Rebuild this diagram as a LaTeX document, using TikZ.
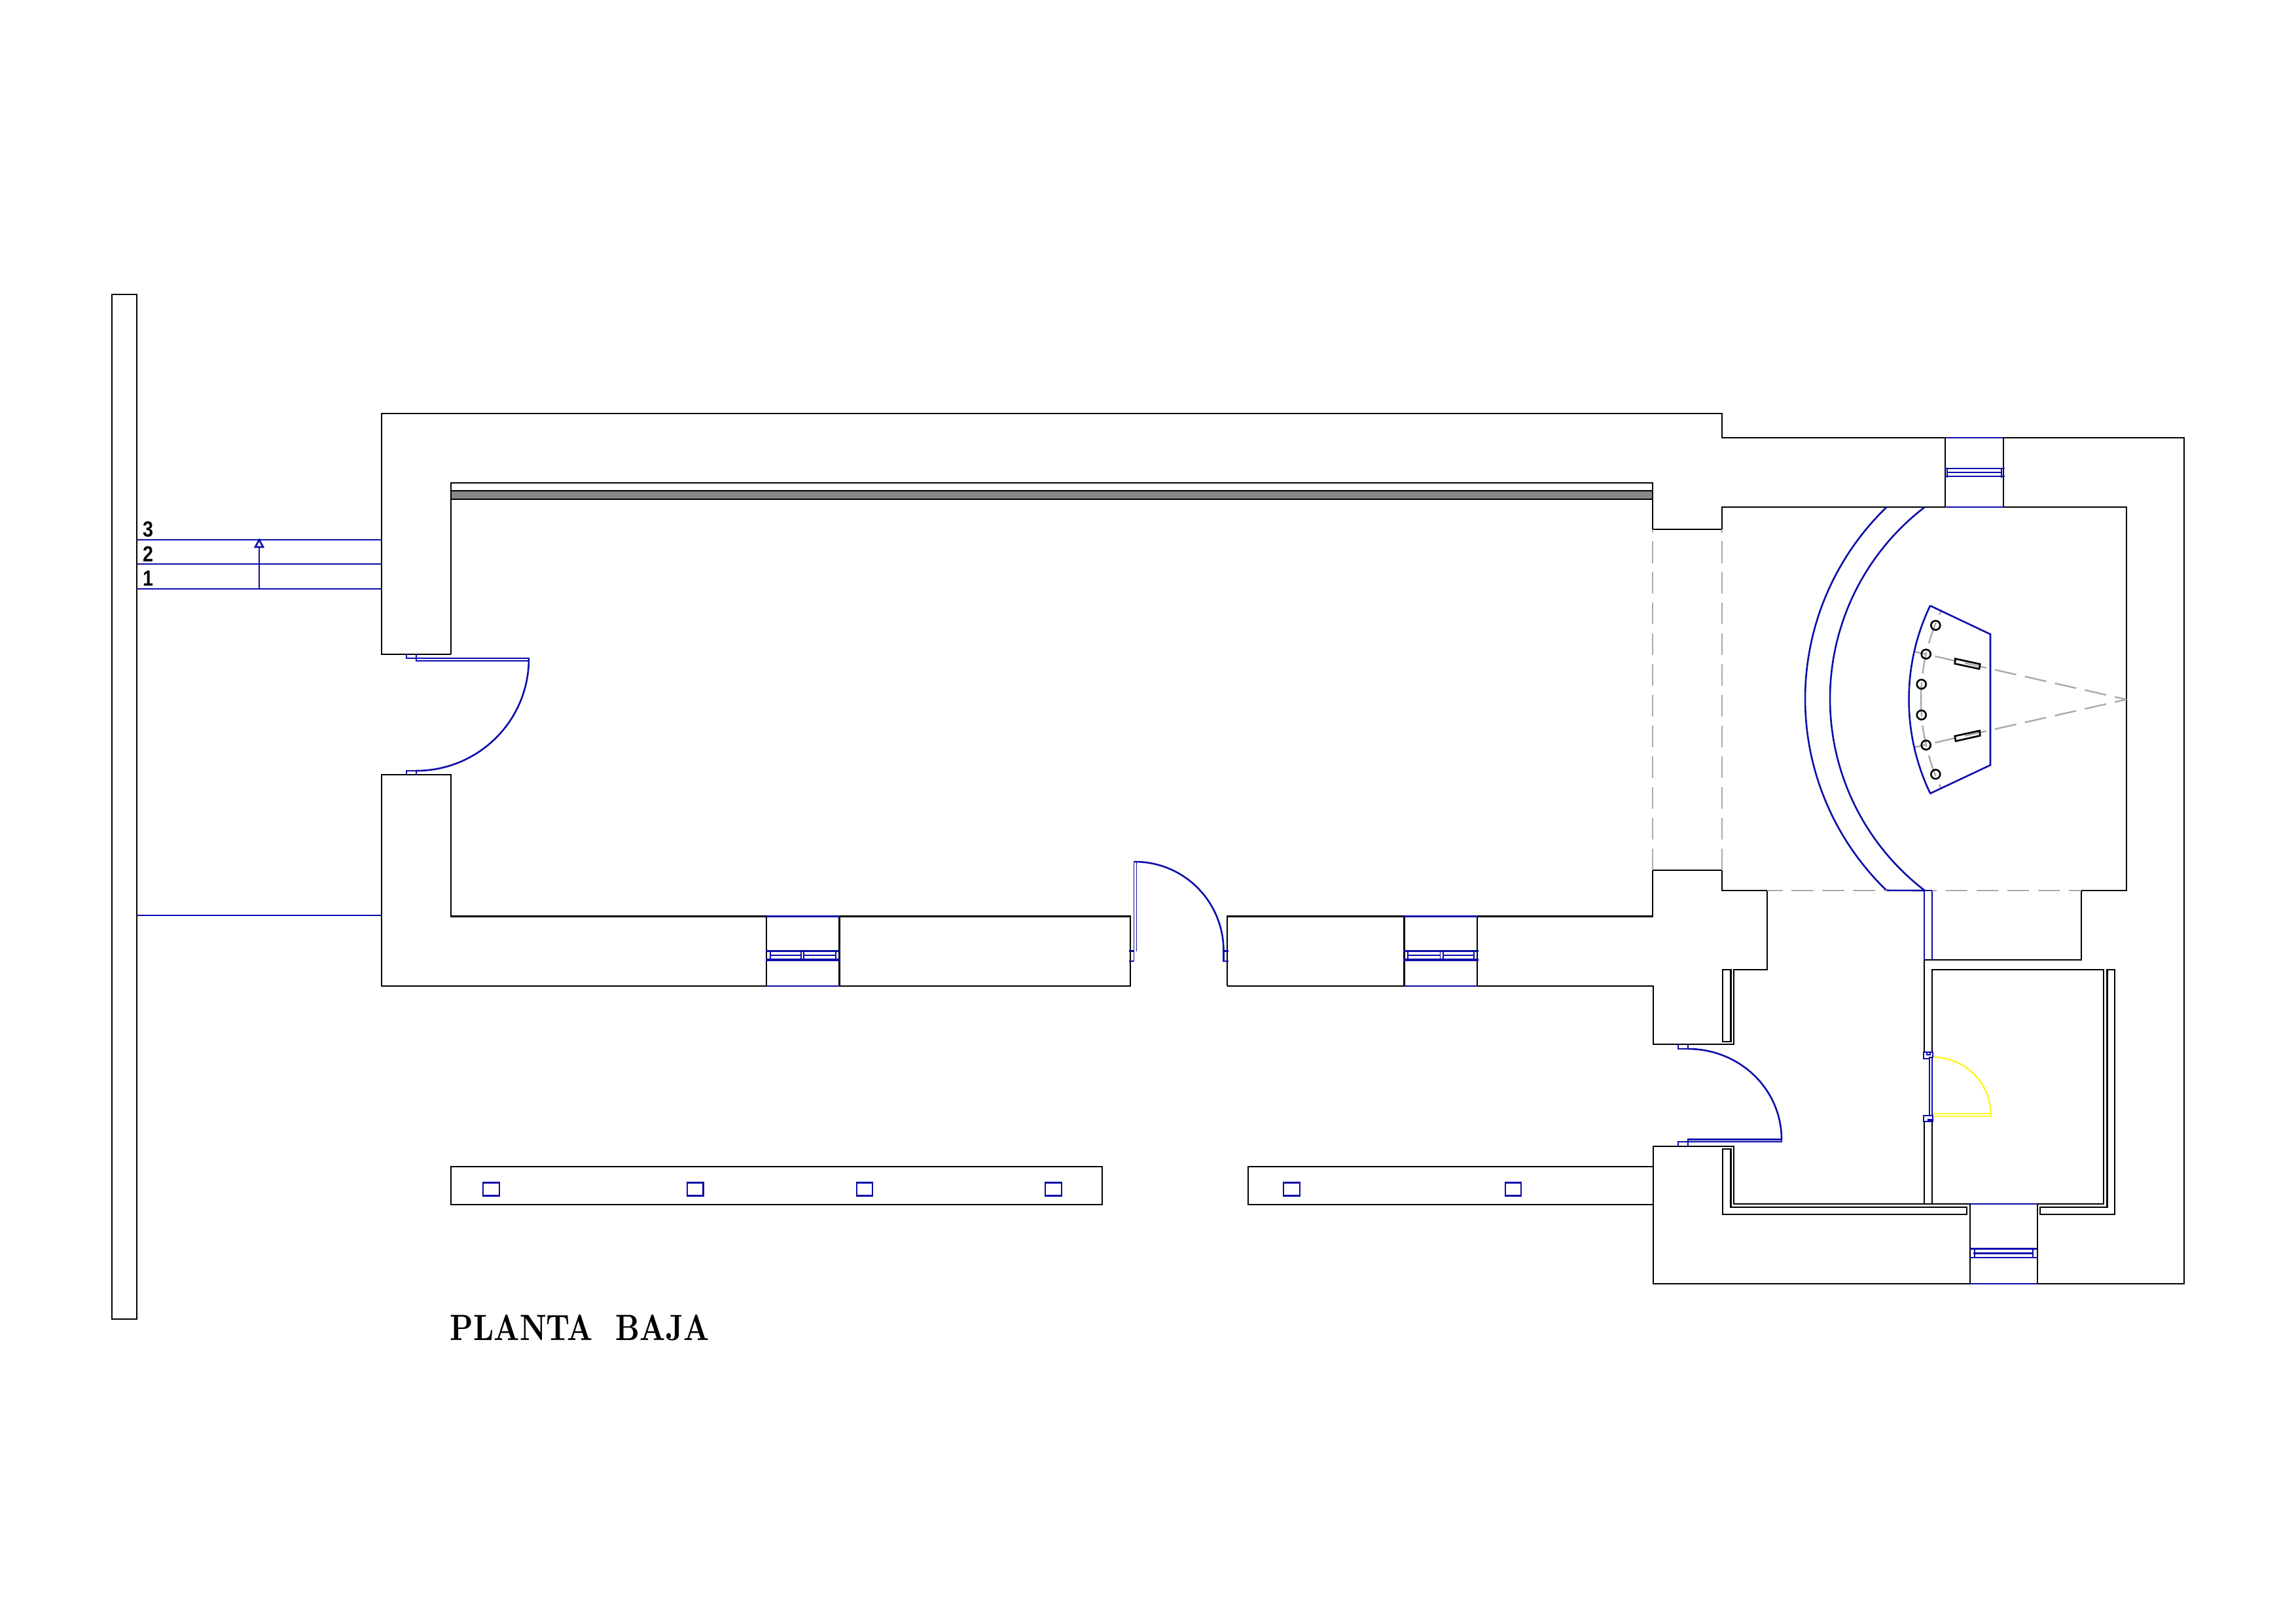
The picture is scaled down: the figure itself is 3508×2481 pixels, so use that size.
\documentclass[tikz,border=0pt]{standalone}
\usepackage{fontspec}
\usepackage{graphicx}
\newfontfamily\labelfont{Liberation Sans}
\definecolor{planblue}{RGB}{12,12,170}
\definecolor{plangrey}{RGB}{170,170,170}
\definecolor{bandgrey}{RGB}{136,136,136}
\definecolor{planyellow}{RGB}{255,245,50}
\tikzset{
  wall/.style={draw=black,line width=0.75pt,line join=miter},
  thinwall/.style={draw=black,line width=0.68pt},
  blueline/.style={draw=planblue,line width=0.74pt,line join=miter},
  bluethin/.style={draw=planblue,line width=0.52pt},
  bluebar/.style={draw=planblue,line width=0.9pt},
  ghost/.style={draw=plangrey,line width=0.68pt,dash pattern=on 9.5pt off 3.85pt},
  yellowline/.style={draw=planyellow,line width=0.74pt},
  floornum/.style={inner sep=0pt,font=\labelfont\bfseries\fontsize{9.5}{10}\selectfont},
  pillar/.style={draw=black,line width=0.75pt}
}
\begin{document}
\begin{tikzpicture}[x=0.01cm,y=-0.01cm]
\fill[white] (0,0) rectangle (3508,2481);
\useasboundingbox (0,0) rectangle (3508,2481);

% left strip
\draw[wall] (171,450) rectangle (209,2016);

% floor level lines
\draw[blueline] (209,825) -- (583,825);
\draw[blueline] (209,862) -- (583,862);
\draw[blueline] (209,900) -- (583,900);
\draw[blueline] (209,1399) -- (583,1399);
\draw[blueline] (396,900) -- (396,835);
\draw[blueline] (396,825) -- (402,836) -- (390,836) -- cycle;
\node[floornum] (n3) at (226,809) {\scalebox{0.86}[1]{3}};
\node[floornum] (n2) at (226,847) {\scalebox{0.86}[1]{2}};
\node[floornum] (n1) at (226,884) {\scalebox{0.86}[1]{1}};

% grey band
\fill[bandgrey] (689,750) rectangle (2525,763);
\draw[wall] (689,763) -- (689,738) -- (2525,738) -- (2525,763);
\draw[wall] (689,750) -- (2525,750);
\draw[wall] (689,763) -- (2525,763);

% outer walls
\draw[wall] (689,1000) -- (689,763);
\draw[wall] (689,1000) -- (583,1000) -- (583,632) -- (2631,632) -- (2631,669) -- (3337,669) -- (3337,1962) -- (2526,1962) -- (2526,1752) -- (2649,1752) -- (2649,1840) -- (3010,1840);
\draw[wall] (2525,763) -- (2525,809) -- (2631,809) -- (2631,775) -- (3249,775) -- (3249,1361) -- (3180,1361) -- (3180,1467) -- (2940,1467) -- (2940,1608);
\draw[wall] (1727,1400.5) -- (689,1400.5) -- (689,1184) -- (583,1184) -- (583,1507) -- (1727,1507) -- cycle;
\draw[wall] (1875,1507) -- (1875,1400.5) -- (2525,1400.5) -- (2525,1330) -- (2631,1330) -- (2631,1361) -- (2700,1361) -- (2700,1482) -- (2649,1482) -- (2649,1596) -- (2526,1596) -- (2526,1507) -- (1875,1507);
\draw[wall] (2632,1482) rectangle (2644.5,1592);
\draw[wall] (2632,1756) -- (2644.5,1756) -- (2644.5,1845) -- (3005,1845) -- (3005,1856) -- (2632,1856) -- cycle;

% small room
\draw[wall] (2952,1608) -- (2952,1482) -- (3214,1482) -- (3214,1840) -- (3112.7,1840);
\draw[wall] (3219.4,1482) -- (3231,1482) -- (3231,1856) -- (3117,1856) -- (3117,1845) -- (3219.4,1845) -- cycle;
\draw[wall] (2940,1714) -- (2940,1840);
\draw[wall] (2952,1714) -- (2952,1840);

% windows in the walls
\foreach \a/\b/\ya/\yb in {1171/1282.6/1400.5/1507, 2145.4/2257/1400.5/1507, 2972/3061/669/775, 3010/3112.7/1840/1962}{
  \draw[thinwall] (\a,\ya) -- (\a,\yb);
  \draw[thinwall] (\b,\ya) -- (\b,\yb);
  \draw[blueline] (\a,\ya) -- (\b,\ya);
  \draw[blueline] (\a,\yb) -- (\b,\yb);
}
\foreach \a/\b/\c/\d in {1177/1223.6/1228.4/1277, 2151/2200.5/2205/2252}{
  \draw[bluebar] (\a-7,1453.7) -- (\d+7,1453.7);
  \draw[bluebar] (\a-7,1467) -- (\d+7,1467);
  \draw[blueline] (\a,1460) -- (\b,1460);
  \draw[blueline] (\c,1460) -- (\d,1460);
  \draw[blueline] (\a,1453.7) -- (\a,1467);
  \draw[bluethin] (\b,1453.7) -- (\b,1467);
  \draw[bluethin] (\c,1453.7) -- (\c,1467);
  \draw[blueline] (\d,1453.7) -- (\d,1467);
}
\draw[blueline] (2970.5,716) -- (3063,716);
\draw[blueline] (2975,722) -- (3058,722);
\draw[blueline] (2970.5,728) -- (3063,728);
\draw[blueline] (2975,716) -- (2975,730);
\draw[blueline] (3058,716) -- (3058,730);
\draw[blueline] (3010,1908.7) -- (3112.7,1908.7);
\draw[blueline] (3010,1922) -- (3112.7,1922);
\draw[blueline] (3015,1915.7) -- (3107,1915.7);
\draw[blueline] (3017,1908.7) -- (3017,1922);
\draw[blueline] (3106,1908.7) -- (3106,1922);

% plinths with pillars
\draw[wall] (689,1783) rectangle (1684,1841);
\draw[wall] (2526,1783) -- (1907,1783) -- (1907,1841) -- (2526,1841);
\foreach \a/\b in {738/763, 1050/1074.5, 1309/1333, 1597/1622, 1961/1986, 2300/2324}{
  \draw[blueline] (\a,1807.7) rectangle (\b,1827.3);
}

% west door
\draw[blueline] (621,1000) -- (621,1006) -- (808,1006) -- (808,1010) -- (636,1010) -- (636,1000);
\draw[blueline] plot[domain=0:90,samples=40] ({636+172*cos(\x)},{1007+171*sin(\x)});
\draw[blueline] (621,1184) -- (621,1178) -- (650,1178);
\draw[blueline] (636,1178) -- (636,1184);

% south door
\draw[blueline] (1725,1453.7) -- (1732.4,1453.7);
\draw[blueline] (1725,1469) -- (1732.4,1469);
\draw[bluethin] (1732.4,1469) -- (1732.4,1317) -- (1736.4,1317) -- (1736.4,1453.7);
\draw[blueline] plot[domain=-90:0,samples=40] ({1734+135.5*cos(\x)},{1453+136*sin(\x)});
\draw[blueline] (1868,1453.7) -- (1877,1453.7);
\draw[blueline] (1868,1469) -- (1877,1469);
\draw[blueline] (1869.5,1453) -- (1869.5,1469);

% east door
\draw[blueline] (2563.8,1596) -- (2563.8,1603) -- (2579,1603);
\draw[blueline] (2579,1596) -- (2579,1603);
\draw[blueline] plot[domain=-90:0,samples=40] ({2579+143*cos(\x)},{1741+138*sin(\x)});
\draw[blueline] (2563.8,1752) -- (2563.8,1745) -- (2722,1745) -- (2722,1741.5) -- (2579,1741.5) -- (2579,1752);

% yellow door and its frame
\draw[yellowline] plot[domain=-90:0,samples=40] ({2952+89.5*cos(\x)},{1702+86.5*sin(\x)});
\draw[yellowline] (2953,1702) -- (3041.5,1702) -- (3041.5,1706) -- (2953,1706);
\draw[blueline] (2948,1618) -- (2948,1705);
\draw[blueline] (2952,1616) -- (2952,1705);
\draw[blueline] (2939,1608) -- (2953,1608) -- (2953,1616) -- (2948,1616) -- (2948,1618) -- (2939,1618) -- cycle;
\draw[bluethin] (2944,1608) -- (2944,1612) -- (2949,1612) -- (2949,1608);
\draw[blueline] (2948,1705) -- (2939,1705) -- (2939,1714) -- (2953,1714) -- (2953,1705) -- cycle;
\fill[planblue] (2945,1710) rectangle (2953,1714);

% arches
\draw[blueline] plot[domain=226:134,samples=90] ({3165+407*cos(\x)},{1068+407*sin(\x)}) -- (2939.8,1361);
\draw[blueline] plot[domain=232.5:127.5,samples=90] ({3165+369*cos(\x)},{1068+369*sin(\x)});
\draw[blueline] (2939.8,1361) -- (2939.8,1467);
\draw[blueline] (2939.8,1361) -- (2952,1361) -- (2952,1467);

% dashed openings
\draw[ghost] (2525,1330) -- (2525,809);
\draw[ghost] (2631,1330) -- (2631,809);
\draw[ghost,dash phase=2.7pt] (2700,1361) -- (2883,1361);
\draw[ghost,dash phase=7.4pt] (2952,1361) -- (3180,1361);

% altar
\draw[ghost,dash phase=4.3pt] (3249,1069) -- (2925.3,996);
\draw[ghost,dash phase=4.3pt] (3249,1069) -- (2925.3,1142);
\draw[ghost] plot[domain=181.3:154.4,samples=50] ({3249+314*cos(\x)},{1069-314*sin(\x)});
\draw[ghost] plot[domain=181.3:154.4,samples=50] ({3249+314*cos(\x)},{1069+314*sin(\x)});
\draw[blueline] (3041,969.3) -- (2949,925.7) -- plot[domain=205.6:154.4,samples=50] ({3249+332.5*cos(\x)},{1069+332.5*sin(\x)}) -- (2949,1212.7) -- (3041,1169.3) -- cycle;
\foreach \cx/\cy in {2957.3/955.7, 2942.7/999.7, 2935.7/1045.7, 2935.7/1092.7, 2942.7/1138.7, 2957.3/1183.3}{
  \draw[pillar] (\cx,\cy) circle[radius=7];
}
\draw[pillar] (2987.3,1006.7) -- (3025.3,1015) -- (3024,1022.3) -- (2986.7,1014.3) -- cycle;
\draw[pillar] (2986.7,1125) -- (3024.7,1116.7) -- (3025.3,1124.3) -- (2988,1132.7) -- cycle;

% title
\node[anchor=base west,inner sep=0pt] (title) at (687,2048) {\resizebox{112.6pt}{11.1pt}{\bfseries PLANTA\ \ BAJA}};
\end{tikzpicture}
\end{document}
